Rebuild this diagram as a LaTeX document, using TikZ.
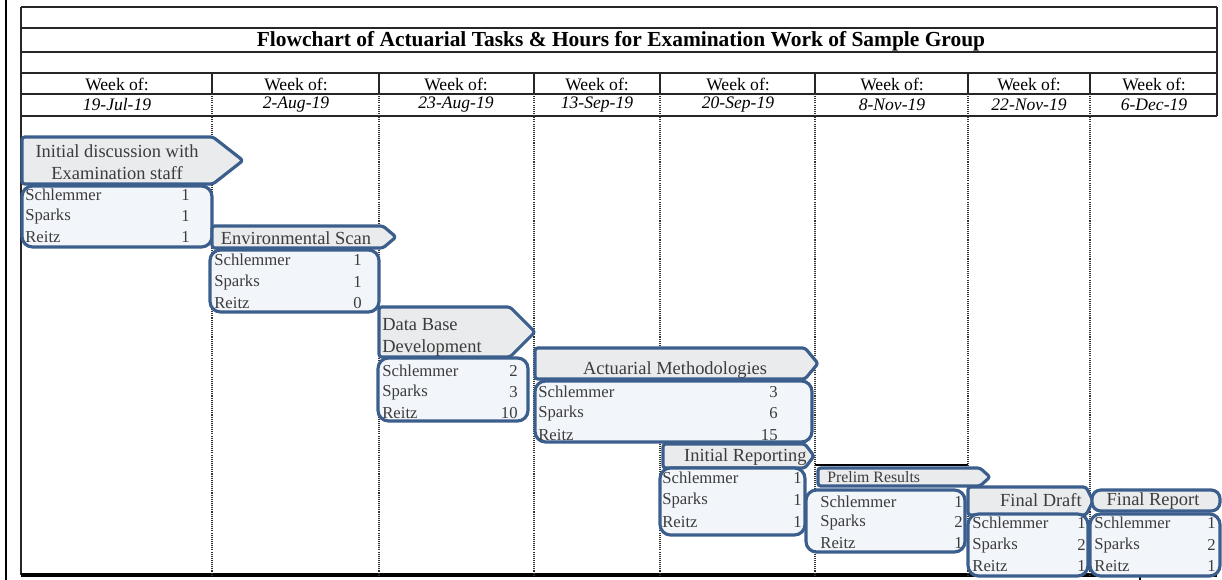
\documentclass[tikz,border=0pt]{standalone}
\usepackage{fontspec}
\setmainfont{Liberation Serif}
\usepackage{tikz}

\definecolor{tagblue}{HTML}{3B5E8C}
\definecolor{taggray}{HTML}{EAEBED}
\definecolor{boxfill}{HTML}{F2F6FA}
\definecolor{inkgray}{HTML}{3C3C3C}

\tikzset{
  rowline/.style={line width=0.9pt, black!85},
  colline/.style={line width=0.6pt, black!80, dash pattern=on 0.6pt off 0.6pt},
  tagline/.style={line width=1.8pt, tagblue, fill=taggray, line join=round, rounded corners=1.5pt},
  hourbox/.style={line width=1.8pt, tagblue, fill=boxfill, rounded corners=6pt},
  tagtext/.style={inner sep=0pt, text=inkgray, font=\fontsize{10.5}{12.5}\selectfont},
  staffname/.style={anchor=west, inner sep=0pt, text=inkgray, font=\fontsize{9.5}{11}\selectfont},
  hourval/.style={anchor=east, inner sep=0pt, text=inkgray, font=\fontsize{9.5}{11}\selectfont},
  weekhead/.style={inner sep=0pt, font=\fontsize{10}{12}\selectfont}
}

% tag with a point: x1, y1, x of point start, x of tip, y2
\newcommand{\tasktag}[5]{%
  \draw[tagline] (#1,#2) -- (#3,#2) -- (#4,{(#2+#5)/2}) -- (#3,#5) -- (#1,#5) -- cycle;}

\begin{document}
\begin{tikzpicture}[x=0.02cm, y=-0.02cm]
  \useasboundingbox (0,0) rectangle (1222,580);

  % frame and rows
  \draw[line width=1.5pt, black](6,0)--(6,580);
  \draw[rowline](21,7)--(1217,7);
  \draw[rowline](21,28)--(1217,28);
  \draw[rowline](21,52)--(1217,52);
  \draw[rowline](21,73)--(1217,73);
  \draw[rowline](21,94)--(1217,94);
  \draw[rowline](21,116)--(1217,116);
  \draw[rowline](21,7)--(21,575);
  \draw[rowline](1217,7)--(1217,116);
  \draw[line width=2pt, black](21,575)--(1217,575);
  \draw[line width=1.5pt, black](1140,575)--(1140,580);
  \draw[line width=0.8pt, black](815,465)--(968,465);

  % week columns
  \foreach \cx in {212,379,534,660,815,968,1090}{
    \draw[rowline](\cx,73)--(\cx,94);
    \draw[colline](\cx,94)--(\cx,575);
  }

  \node[font=\bfseries\fontsize{12.2}{14}\selectfont] (title) at (621,41)
    {Flowchart of Actuarial Tasks \& Hours for Examination Work of Sample Group};

  \foreach \cx/\day [count=\i] in {117/19-Jul-19, 296/2-Aug-19, 456/23-Aug-19, 597/13-Sep-19,
                                   738/20-Sep-19, 892/8-Nov-19, 1029/22-Nov-19, 1154/6-Dec-19}{
    \node[weekhead] (week\i) at (\cx,84) {Week of:};
    \node[weekhead, font=\itshape\fontsize{10}{12}\selectfont] (date\i) at (\cx,105) {\day};
  }

  % Initial discussion
  \tasktag{22}{137}{213}{243}{184}
  \node[tagtext, align=center] (initial) at (117,162) {Initial discussion with\\Examination staff};
  \draw[hourbox](22,186) rectangle (212,247);
  \node[staffname] (initialA) at (25,195) {Schlemmer};
  \node[staffname] (initialB) at (25,216) {Sparks};
  \node[staffname] (initialC) at (25,237) {Reitz};
  \node[hourval] (initialAh) at (190,195) {1};
  \node[hourval] (initialBh) at (190,216) {1};
  \node[hourval] (initialCh) at (190,237) {1};

  % Environmental scan
  \tasktag{212}{226}{383}{396}{248}
  \node[tagtext] (scan) at (296,238) {Environmental Scan};
  \draw[hourbox](210,250) rectangle (379,312);
  \node[staffname] (scanA) at (214,260) {Schlemmer};
  \node[staffname] (scanB) at (214,282) {Sparks};
  \node[staffname] (scanC) at (214,303) {Reitz};
  \node[hourval] (scanAh) at (362,260) {1};
  \node[hourval] (scanBh) at (362,282) {1};
  \node[hourval] (scanCh) at (362,303) {0};

  % Data base
  \tasktag{379}{307}{510}{535}{357}
  \node[tagtext, align=left, anchor=west] (database) at (382,337) {Data Base\\Development};
  \draw[hourbox](378,358) rectangle (528,421);
  \node[staffname] (databaseA) at (382,371) {Schlemmer};
  \node[staffname] (databaseB) at (382,392) {Sparks};
  \node[staffname] (databaseC) at (382,413) {Reitz};
  \node[hourval] (databaseAh) at (518,371) {2};
  \node[hourval] (databaseBh) at (518,392) {3};
  \node[hourval] (databaseCh) at (518,413) {10};

  % Actuarial methodologies
  \tasktag{535}{348}{805}{818}{379}
  \node[tagtext] (method) at (675,370) {Actuarial Methodologies};
  \draw[hourbox](535,381) rectangle (812,442);
  \node[staffname] (methodA) at (538,392) {Schlemmer};
  \node[staffname] (methodB) at (538,413) {Sparks};
  \node[staffname] (methodC) at (538,435) {Reitz};
  \node[hourval] (methodAh) at (778,392) {3};
  \node[hourval] (methodBh) at (778,413) {6};
  \node[hourval] (methodCh) at (778,435) {15};

  % Initial reporting
  \tasktag{663}{444}{805}{814}{468}
  \node[tagtext, anchor=east] (reporting) at (807,457) {Initial Reporting};
  \draw[hourbox](660,468) rectangle (805,535);
  \node[staffname] (reportingA) at (662,478) {Schlemmer};
  \node[staffname] (reportingB) at (662,500) {Sparks};
  \node[staffname] (reportingC) at (662,522) {Reitz};
  \node[hourval] (reportingAh) at (802,478) {1};
  \node[hourval] (reportingBh) at (802,500) {1};
  \node[hourval] (reportingCh) at (802,522) {1};

  % Prelim results
  \tasktag{818}{468}{980}{990}{486}
  \node[tagtext, anchor=west, font=\fontsize{9}{11}\selectfont] (prelim) at (827,477) {Prelim Results};
  \draw[hourbox](806,490) rectangle (965,552);
  \node[staffname] (prelimA) at (820,502) {Schlemmer};
  \node[staffname] (prelimB) at (820,522) {Sparks};
  \node[staffname] (prelimC) at (820,543) {Reitz};
  \node[hourval] (prelimAh) at (963,502) {1};
  \node[hourval] (prelimBh) at (963,522) {2};
  \node[hourval] (prelimCh) at (963,543) {1};

  % Final draft
  \tasktag{968}{487}{1086}{1093}{515}
  \node[tagtext, anchor=east] (draft) at (1082,500) {Final Draft};
  \draw[hourbox](968,514) rectangle (1088,576);
  \node[staffname] (draftA) at (972,523) {Schlemmer};
  \node[staffname] (draftB) at (972,545) {Sparks};
  \node[staffname] (draftC) at (972,566) {Reitz};
  \node[hourval] (draftAh) at (1086,523) {1};
  \node[hourval] (draftBh) at (1086,545) {2};
  \node[hourval] (draftCh) at (1086,566) {1};

  % Final report
  \draw[tagline, rounded corners=5pt](1092,490) rectangle (1220,511);
  \node[tagtext] (report) at (1153,501) {Final Report};
  \draw[hourbox](1090,514) rectangle (1220,576);
  \node[staffname] (reportA) at (1094,523) {Schlemmer};
  \node[staffname] (reportB) at (1094,545) {Sparks};
  \node[staffname] (reportC) at (1094,566) {Reitz};
  \node[hourval] (reportAh) at (1216,523) {1};
  \node[hourval] (reportBh) at (1216,545) {2};
  \node[hourval] (reportCh) at (1216,566) {1};
\end{tikzpicture}
\end{document}
